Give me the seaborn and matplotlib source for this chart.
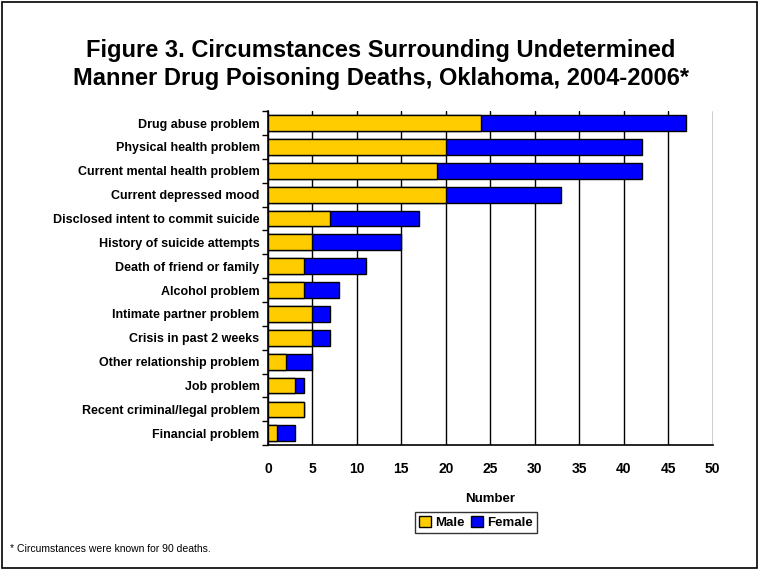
import pandas as pd
import matplotlib.pyplot as plt
import seaborn as sns
from matplotlib.patches import Patch, Rectangle

# ------------------------------------------
# Data
# ------------------------------------------
circumstances = ['Drug abuse problem', 'Physical health problem', 'Current mental health problem',
                 'Current depressed mood', 'Disclosed intent to commit suicide',
                 'History of suicide attempts', 'Death of friend or family', 'Alcohol problem',
                 'Intimate partner problem', 'Crisis in past 2 weeks', 'Other relationship problem',
                 'Job problem', 'Recent criminal/legal problem', 'Financial problem']
male = [24, 20, 19, 20, 7, 5, 4, 4, 5, 5, 2, 3, 4, 1]
female = [23, 22, 23, 13, 10, 10, 7, 4, 2, 2, 3, 1, 0, 2]

df = pd.DataFrame({'Circumstance': circumstances, 'Male': male, 'Female': female})
df['Total'] = df['Male'] + df['Female']

male_color = '#FFCC00'
female_color = '#0000FF'

sns.set_style('white')
plt.rcParams['font.family'] = ['Liberation Sans', 'DejaVu Sans']
for key in ['text.color', 'axes.labelcolor', 'xtick.color', 'ytick.color']:
    plt.rcParams[key] = 'black'

# ------------------------------------------
# Stacked horizontal bars
# ------------------------------------------
fig = plt.figure(figsize=(7.59, 5.70), dpi=100)
ax = fig.add_axes([0.353, 0.219, 0.586, 0.586])

sns.barplot(data=df, y='Circumstance', x='Total', color=female_color, orient='h',
            width=0.66, edgecolor='black', linewidth=1, saturation=1, ax=ax, zorder=3)
sns.barplot(data=df, y='Circumstance', x='Male', color=male_color, orient='h',
            width=0.66, edgecolor='black', linewidth=1, saturation=1, ax=ax, zorder=4)

ax.set_xlim(0, 50)
ax.set_ylim(len(circumstances) - 0.5, -0.5)
ax.set_xticks(range(0, 51, 5))
ax.grid(axis='x', color='black', linewidth=1, zorder=0)
ax.grid(axis='y', visible=False)
for side in ['top', 'right']:
    ax.spines[side].set_visible(False)
for side in ['left', 'bottom']:
    ax.spines[side].set_color('black')
    ax.spines[side].set_linewidth(1.2)

ax.set_yticks([i for i in range(len(circumstances))])
ax.set_yticklabels(circumstances, fontsize=9, fontweight='bold')
ax.tick_params(axis='x', labelsize=10, length=4, width=1, pad=8)
for lbl in ax.get_xticklabels():
    lbl.set_fontweight('bold')
ax.tick_params(axis='y', length=0, pad=6)
# minor ticks between categories on the y axis
ax.set_yticks([i + 0.5 for i in range(-1, len(circumstances))], minor=True)
ax.tick_params(axis='y', which='minor', length=4, width=1, left=True)
ax.set_ylabel('')
ax.set_xlabel('Number', fontsize=9.5, fontweight='bold', labelpad=12)

fig.text(0.502, 0.887, 'Figure 3. Circumstances Surrounding Undetermined\n'
         'Manner Drug Poisoning Deaths, Oklahoma, 2004-2006*',
         fontsize=17, fontweight='bold', ha='center', va='center',
         multialignment='center', linespacing=1.25)

handles = [Patch(facecolor=male_color, edgecolor='black', label='Male'),
           Patch(facecolor=female_color, edgecolor='black', label='Female')]
leg = fig.legend(handles=handles, loc='center', bbox_to_anchor=(0.627, 0.083), ncol=2,
                 frameon=True, fancybox=False, edgecolor='black',
                 prop={'weight': 'bold', 'size': 9.5}, handlelength=0.9, handleheight=0.9,
                 handletextpad=0.3, columnspacing=0.5, borderpad=0.3)

fig.text(0.013, 0.032, '* Circumstances were known for 90 deaths.', fontsize=7.5)

# outer frame
fig.patches.append(Rectangle((0.002, 0.003), 0.996, 0.994, transform=fig.transFigure,
                             fill=False, edgecolor='black', linewidth=1.2))

fig.savefig('out.png', dpi=100)
